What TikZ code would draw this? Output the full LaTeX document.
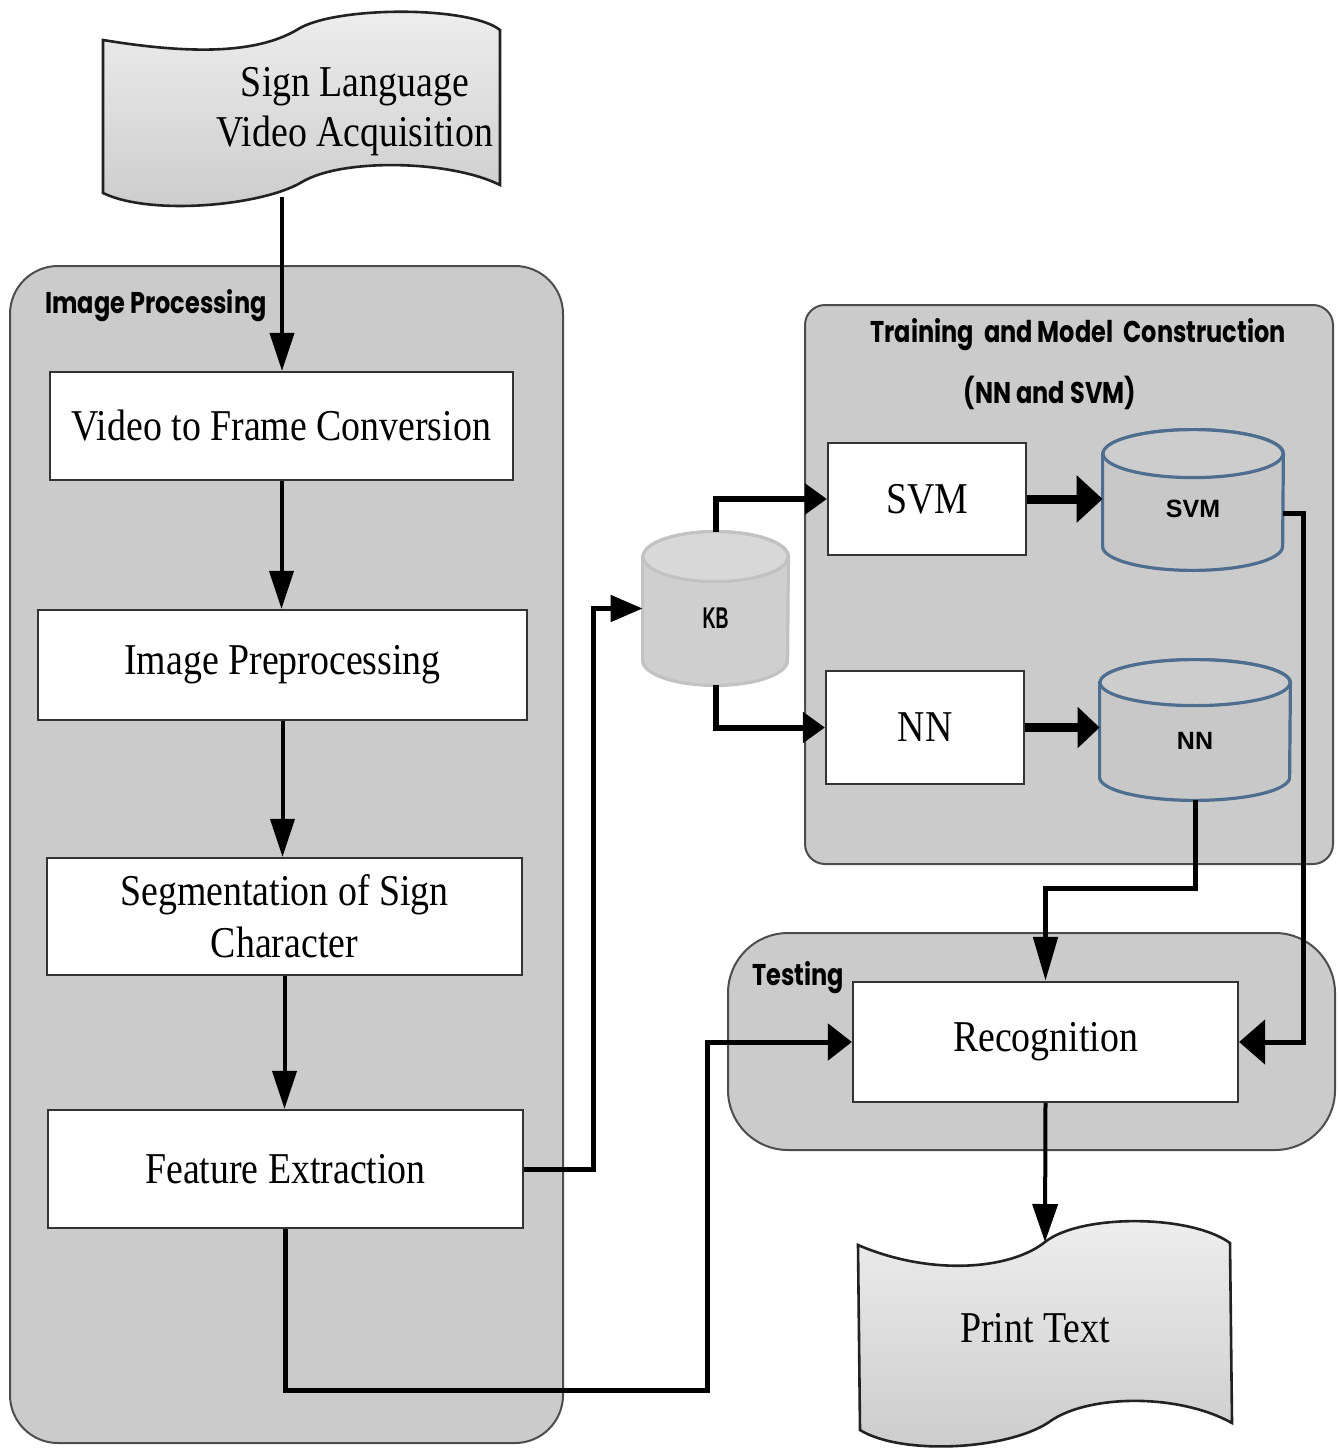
\documentclass[tikz,border=0pt]{standalone}
\usepackage{fontspec}
\usetikzlibrary{arrows.meta,calc}
\newfontfamily\boxfont{Liberation Serif}[FakeStretch=0.86]
\newfontfamily\tagfont{Poppins}[FakeStretch=0.8]
\newfontfamily\drumfont{Liberation Sans}
\newfontfamily\kbfont{Liberation Sans}[FakeStretch=0.6]

\definecolor{panelgray}{HTML}{CBCBCB}
\definecolor{panelline}{HTML}{4D4D4D}
\definecolor{boxline}{HTML}{333333}
\definecolor{drumfill}{HTML}{C8C8C8}
\definecolor{drumtop}{HTML}{CDCDCD}
\definecolor{drumline}{HTML}{4E6E90}
\definecolor{kbfill}{HTML}{CFCFCF}
\definecolor{kbtop}{HTML}{D8D8D8}
\definecolor{kbline}{HTML}{C2C2C2}
\definecolor{banline}{HTML}{222222}
\definecolor{bantop}{HTML}{EEEEEE}
\definecolor{banbottom}{HTML}{CBCBCB}

\pgfdeclarelayer{back}
\pgfdeclarelayer{mid}
\pgfsetlayers{back,mid,main}

% drum (database cylinder) around a named node:
% #1 node, #2 x radius, #3 y radius of the ends, #4 body, #5 top, #6 outline
\newcommand\drawdrum[6]{%
  \begin{pgfonlayer}{mid}
    \path[fill=#4, draw=#6, line width=1.6pt]
      ([yshift=-#3]#1.north west) -- ([yshift=#3]#1.south west)
      arc[start angle=180, end angle=360, x radius=#2, y radius=#3]
      -- ([yshift=-#3]#1.north east)
      arc[start angle=0, end angle=180, x radius=#2, y radius=#3] -- cycle;
    \path[fill=#5, draw=#6, line width=1.6pt]
      ([yshift=-#3]#1.north) ellipse[x radius=#2, y radius=#3];
  \end{pgfonlayer}}
% label sitting a little below the middle of a drum
\newcommand\drumlabel[2]{\raisebox{#1}[0pt][0pt]{#2}}

\begin{document}
\begin{tikzpicture}[x=0.5pt, y=-0.5pt,
  panel/.style={draw=panelline, fill=panelgray, line width=1pt, inner sep=0pt},
  stepbox/.style={draw=boxline, fill=white, line width=1.1pt, inner sep=0pt,
    align=center, font=\boxfont\fontsize{22}{26}\selectfont},
  tag/.style={inner sep=0pt, text=black, font=\tagfont\bfseries\fontsize{15}{18}\selectfont},
  drumnode/.style={inner sep=0pt, font=\drumfont\bfseries\fontsize{12.5}{14}\selectfont},
  banner/.style={draw=banline, line width=1.3pt, top color=bantop, bottom color=banbottom},
  flow/.style={line width=2pt, -{Triangle[length=19pt, width=12pt]}},
  branch/.style={line width=3pt, -{Triangle[length=11pt, width=15pt]}},
  feed/.style={line width=4.5pt, -{Triangle[length=13pt, width=23pt]}},
  side/.style={line width=2.5pt, -{Triangle[length=13pt, width=20pt]}},
]
\useasboundingbox (0,0) rectangle (1338,1450);

% group panels on a white sheet
\begin{pgfonlayer}{back}
  \fill[white] (0,0) rectangle (1338,1450);
  \node[panel, rounded corners=24pt, minimum width=276.5pt, minimum height=588.5pt]
    (impanel) at (286.5,854.5) {};
  \node[panel, rounded corners=10pt, minimum width=264pt, minimum height=279.5pt]
    (trainpanel) at (1069,584.5) {};
  \node[panel, rounded corners=30pt, minimum width=303.5pt, minimum height=108.5pt]
    (testpanel) at (1031.5,1041.5) {};
\end{pgfonlayer}

\node[tag, anchor=west] (imtag) at (45,306) {Image Processing};
\node[tag] (traintag) at (1078,335) {Training \ and Model \ Construction};
\node[tag] (nnsvmtag) at (1050,393) {(NN and SVM)};
\node[tag, anchor=west] (testtag) at (752,978) {Testing};

% input and output banners
\path[banner] (103,193) -- (103,40)
  .. controls (200,56) and (262,52) .. (300,28)
  .. controls (340,6) and (470,6) .. (500,30)
  -- (500,185)
  .. controls (450,160) and (342,158) .. (302,182)
  .. controls (262,206) and (150,216) .. (103,193) -- cycle;
\node[inner sep=0pt, align=center, font=\boxfont\fontsize{22}{25}\selectfont]
  (acq) at (355,112) {Sign Language\\Video Acquisition};
\coordinate (acqout) at (282,197);

\path[banner] (860,1430) -- (858,1245)
  .. controls (930,1276) and (1010,1270) .. (1045,1242)
  .. controls (1080,1214) and (1190,1214) .. (1230,1243)
  -- (1232,1423)
  .. controls (1180,1394) and (1092,1394) .. (1052,1420)
  .. controls (1012,1450) and (902,1456) .. (860,1430) -- cycle;
\node[inner sep=0pt, font=\boxfont\fontsize{22}{25}\selectfont]
  (print) at (1035,1328) {Print Text};
\coordinate (printin) at (1045,1242);

% processing steps
\node[stepbox, minimum width=231.5pt, minimum height=54pt] (vf) at (281.5,426) {Video to Frame Conversion};
\node[stepbox, minimum width=244.5pt, minimum height=55pt] (ip) at (282.5,665) {Image Preprocessing};
\node[stepbox, minimum width=237.5pt, minimum height=58.5pt] (seg) at (284.5,916.5) {Segmentation of Sign\\Character};
\node[stepbox, minimum width=237.5pt, minimum height=59pt] (fe) at (285.5,1169) {Feature Extraction};

\node[stepbox, minimum width=99pt, minimum height=56pt] (svmbox) at (927,499) {SVM};
\node[stepbox, minimum width=99pt, minimum height=56.5pt] (nnbox) at (925,727.5) {NN};
\node[stepbox, minimum width=192.5pt, minimum height=60pt] (rec) at (1045.5,1042) {Recognition};

% stores
\node[drumnode, minimum width=72.5pt, minimum height=76.5pt, font=\kbfont\bfseries\fontsize{15}{17}\selectfont]
  (kb) at (715.5,608.5) {\drumlabel{-10pt}{KB}};
\drawdrum{kb}{36.25pt}{12.5pt}{kbfill}{kbtop}{kbline}
\node[drumnode, minimum width=90pt, minimum height=70pt] (svmcyl) at (1193,500) {\drumlabel{-8.5pt}{SVM}};
\drawdrum{svmcyl}{45pt}{12pt}{drumfill}{drumtop}{drumline}
\node[drumnode, minimum width=95pt, minimum height=70pt] (nncyl) at (1195,730) {\drumlabel{-9.5pt}{NN}};
\drawdrum{nncyl}{47.5pt}{11.5pt}{drumfill}{drumtop}{drumline}

% connectors
\draw[flow] (acqout) -- (acqout |- vf.north);
\draw[flow] (vf.south) -- (vf.south |- ip.north);
\draw[flow] (ip.south) -- (ip.south |- seg.north);
\draw[flow] (seg.south) -- (seg.south |- fe.north);
\draw[side, -{Triangle[length=16pt, width=13pt]}] (fe.east) -- ++(69,0) |- (kb.west);
\coordinate (lowturn) at (707,1390);
\draw[side, -{Triangle[length=12pt, width=18pt]}] (fe.south) |- (lowturn) |- (rec.west);
\draw[branch] (kb.north) |- (svmbox.west);
\draw[branch] (kb.south) |- (nnbox.west);
\draw[feed] (svmbox.east) -- (svmbox.east -| svmcyl.west);
\draw[feed, -{Triangle[length=11pt, width=20pt]}] (nnbox.east) -- (nnbox.east -| nncyl.west);
\draw[flow, line width=2.5pt, -{Triangle[length=22pt, width=12pt]}] (nncyl.south) -- ++(0,88) -| (rec.north);
\draw[side, -{Triangle[length=13pt, width=22pt]}] ([yshift=-6.5pt]svmcyl.east) -- ++(20,0) |- (rec.east);
\draw[flow, -{Triangle[length=19pt, width=12.5pt]}] (rec.south) -- (printin);
\end{tikzpicture}
\end{document}
